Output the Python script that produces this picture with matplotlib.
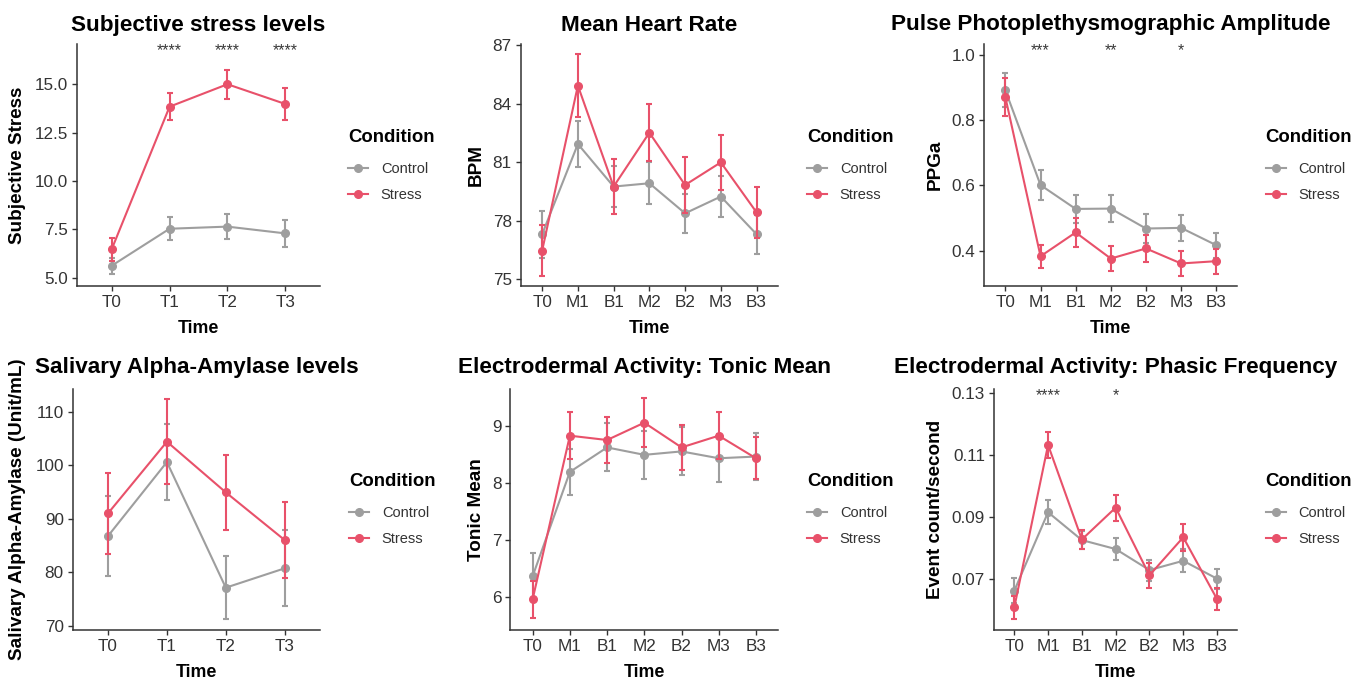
import matplotlib
matplotlib.use("Agg")
import matplotlib.pyplot as plt
from matplotlib.lines import Line2D
import matplotlib.transforms as mtransforms

plt.rcParams['font.family'] = ['Liberation Sans', 'DejaVu Sans']

# ---------------- data ----------------
times4 = ["T0", "T1", "T2", "T3"]
times7 = ["T0", "M1", "B1", "M2", "B2", "M3", "B3"]

# Subjective stress
stress_ctrl = [5.62, 7.53, 7.64, 7.29]
stress_ctrl_se = [0.42, 0.59, 0.65, 0.69]
stress_str = [6.47, 13.84, 15.00, 13.98]
stress_str_se = [0.59, 0.69, 0.75, 0.81]
stress_sig = ["", "****", "****", "****"]

# Mean heart rate
hr_ctrl = [77.31, 81.93, 79.75, 79.92, 78.38, 79.24, 77.31]
hr_ctrl_se = [1.2, 1.2, 1.05, 1.07, 1.0, 1.05, 1.0]
hr_str = [76.47, 84.92, 79.75, 82.51, 79.83, 80.99, 78.43]
hr_str_se = [1.3, 1.6, 1.42, 1.45, 1.45, 1.42, 1.3]

# PPGa
ppg_ctrl = [0.891, 0.601, 0.528, 0.529, 0.468, 0.470, 0.417]
ppg_ctrl_se = [0.052, 0.047, 0.043, 0.041, 0.043, 0.040, 0.038]
ppg_str = [0.870, 0.383, 0.456, 0.376, 0.407, 0.361, 0.368]
ppg_str_se = [0.058, 0.036, 0.045, 0.037, 0.040, 0.038, 0.038]
ppg_sig = ["", "***", "", "**", "", "*", ""]

# Salivary alpha-amylase
saa_ctrl = [86.76, 100.59, 77.10, 80.72]
saa_ctrl_se = [7.5, 7.1, 5.9, 7.1]
saa_str = [91.0, 104.39, 94.92, 86.0]
saa_str_se = [7.6, 7.9, 7.0, 7.1]

# EDA tonic mean
ton_ctrl = [6.37, 8.20, 8.63, 8.50, 8.56, 8.44, 8.47]
ton_ctrl_se = [0.40, 0.40, 0.42, 0.42, 0.42, 0.42, 0.42]
ton_str = [5.965, 8.836, 8.76, 9.064, 8.63, 8.836, 8.44]
ton_str_se = [0.33, 0.41, 0.40, 0.43, 0.40, 0.41, 0.37]

# EDA phasic frequency
pha_ctrl = [0.0661, 0.0915, 0.0825, 0.0796, 0.0728, 0.0758, 0.0700]
pha_ctrl_se = [0.0040, 0.0039, 0.0030, 0.0035, 0.0034, 0.0037, 0.0032]
pha_str = [0.0607, 0.1133, 0.0827, 0.0930, 0.0711, 0.0834, 0.0634]
pha_str_se = [0.0037, 0.0043, 0.0032, 0.0042, 0.0040, 0.0044, 0.0036]
pha_sig = ["", "****", "", "*", "", "", ""]

# ---------------- style ----------------
W, H = 1369, 680
C_CTRL = "#9E9E9E"
C_STR = "#E8516A"
TXT = "#333333"

fig = plt.figure(figsize=(W / 100, H / 100), dpi=100)
fig.patch.set_facecolor("white")


def rect(l, r, t, b):
    return [l / W, 1 - b / H, (r - l) / W, (b - t) / H]


panels = [
    dict(title="Subjective stress levels", ylabel="Subjective Stress", x=times4,
         ctrl=stress_ctrl, ctrl_se=stress_ctrl_se, st=stress_str, st_se=stress_str_se,
         sig=stress_sig, ylim=(4.57, 17.08),
         yticks=[5.0, 7.5, 10.0, 12.5, 15.0], fmt="{:.1f}",
         box=(77, 320, 44, 286), ylab_x=18, title_base=30.7, xlab_base=333,
         leg=(348, 129)),
    dict(title="Mean Heart Rate", ylabel="BPM", x=times7,
         ctrl=hr_ctrl, ctrl_se=hr_ctrl_se, st=hr_str, st_se=hr_str_se,
         sig=None, ylim=(74.66, 87.05),
         yticks=[75, 78, 81, 84, 87], fmt="{:.0f}",
         box=(520.7, 778, 44, 286), ylab_x=476.7, title_base=30.7, xlab_base=333,
         leg=(807, 129)),
    dict(title="Pulse Photoplethysmographic Amplitude", ylabel="PPGa", x=times7,
         ctrl=ppg_ctrl, ctrl_se=ppg_ctrl_se, st=ppg_str, st_se=ppg_str_se,
         sig=ppg_sig, ylim=(0.292, 1.033),
         yticks=[0.4, 0.6, 0.8, 1.0], fmt="{:.1f}",
         box=(984.3, 1237.3, 44, 286), ylab_x=935, title_base=30.0, xlab_base=333,
         leg=(1265.7, 129)),
    dict(title="Salivary Alpha-Amylase levels", ylabel="Salivary Alpha-Amylase (Unit/mL)", x=times4,
         ctrl=saa_ctrl, ctrl_se=saa_ctrl_se, st=saa_str, st_se=saa_str_se,
         sig=None, ylim=(69.19, 114.24),
         yticks=[70, 80, 90, 100, 110], fmt="{:.0f}",
         box=(72.7, 320, 389, 630), ylab_x=18, title_base=373.3, xlab_base=677,
         leg=(349, 473)),
    dict(title="Electrodermal Activity: Tonic Mean", ylabel="Tonic Mean", x=times7,
         ctrl=ton_ctrl, ctrl_se=ton_ctrl_se, st=ton_str, st_se=ton_str_se,
         sig=None, ylim=(5.427, 9.655),
         yticks=[6, 7, 8, 9], fmt="{:.0f}",
         box=(510.3, 778.3, 389, 630), ylab_x=476.7, title_base=373.3, xlab_base=677,
         leg=(807, 473)),
    dict(title="Electrodermal Activity: Phasic Frequency", ylabel="Event count/second", x=times7,
         ctrl=pha_ctrl, ctrl_se=pha_ctrl_se, st=pha_str, st_se=pha_str_se,
         sig=pha_sig, ylim=(0.0534, 0.1314),
         yticks=[0.07, 0.09, 0.11, 0.13], fmt="{:.2f}",
         box=(994, 1237.3, 389, 630), ylab_x=935, title_base=373.3, xlab_base=677,
         leg=(1265.7, 473)),
]

for p in panels:
    l, r, t, b = p["box"]
    ax = fig.add_axes(rect(l, r, t, b))
    n = len(p["x"])
    xs = list(range(n))
    kw = dict(marker="o", markersize=5.5, linewidth=1.5, elinewidth=1.5,
              capsize=2.2, capthick=1.5)
    ax.errorbar(xs, p["ctrl"], yerr=p["ctrl_se"], color=C_CTRL, label="Control",
                zorder=2, **kw)
    ax.errorbar(xs, p["st"], yerr=p["st_se"], color=C_STR, label="Stress",
                zorder=3, **kw)
    ax.set_xlim(-0.6, n - 1 + 0.6)
    ax.set_ylim(*p["ylim"])
    ax.set_xticks(xs)
    ax.set_xticklabels(p["x"])
    ax.set_yticks(p["yticks"])
    ax.set_yticklabels([p["fmt"].format(v) for v in p["yticks"]])
    for s in ["top", "right"]:
        ax.spines[s].set_visible(False)
    for s in ["left", "bottom"]:
        ax.spines[s].set_color("#333333")
        ax.spines[s].set_linewidth(1.1)
    ax.tick_params(axis="both", length=3.4, width=1.0, color="#333333",
                   labelcolor=TXT, labelsize=12.3, pad=3)
    ax.patch.set_alpha(0)

    if p["sig"]:
        trans = mtransforms.blended_transform_factory(ax.transData, ax.transAxes)
        for i, s in enumerate(p["sig"]):
            if s:
                ax.text(i, 0.952, s, ha="center", va="baseline", fontsize=11.5,
                        color="#3a3a3a", transform=trans)

    wpx, hpx = r - l, b - t
    ax.set_title(p["title"], fontsize=16.2, fontweight="bold", color="black",
                 y=1 + (t - p["title_base"]) / hpx, va="baseline", pad=0)
    ax.set_xlabel("Time", fontsize=12.8, fontweight="bold", color="black")
    ax.xaxis.label.set_va("baseline")
    ax.xaxis.set_label_coords(0.5, -(p["xlab_base"] - b) / hpx)
    ax.set_ylabel(p["ylabel"], fontsize=13.6, fontweight="bold", color="black")
    ax.yaxis.label.set_va("center")
    ax.yaxis.set_label_coords((p["ylab_x"] - l) / wpx, 0.5)

    handles = [Line2D([], [], color=C_CTRL, marker="o", markersize=5.5, linewidth=1.5),
               Line2D([], [], color=C_STR, marker="o", markersize=5.5, linewidth=1.5)]
    lx, ly = p["leg"]
    leg = ax.legend(handles=handles, labels=["Control", "Stress"],
                    title="Condition", loc="upper left",
                    bbox_to_anchor=(lx / W, 1 - ly / H), bbox_transform=fig.transFigure,
                    frameon=False, borderpad=0, borderaxespad=0,
                    fontsize=10.5, title_fontproperties={"weight": "bold", "size": 13.4},
                    alignment="left", handlelength=1.4, handletextpad=0.85,
                    labelspacing=0.82)
    try:
        leg._legend_box.sep = 0.82 * 10.5 + 2.9
    except Exception:
        pass
    for txt in leg.get_texts():
        txt.set_color(TXT)

fig.savefig("out.png", dpi=100, facecolor="white")
